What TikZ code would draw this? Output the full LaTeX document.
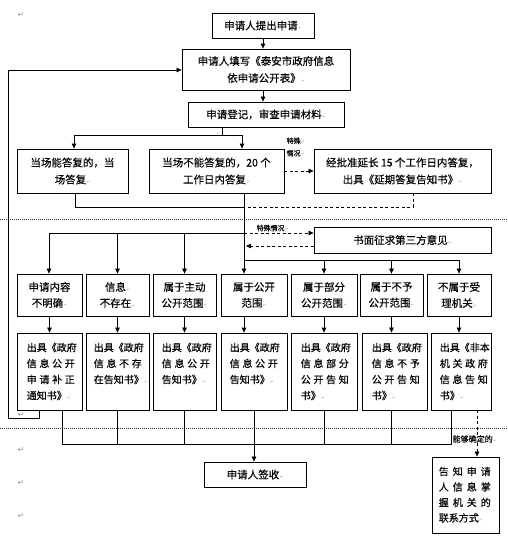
\documentclass[tikz,border=0pt]{standalone}
\usepackage{fontspec}
\setmainfont{Noto Sans CJK SC}[FakeBold=0.3]
\newfontfamily\dejavu{DejaVu Sans}
\usetikzlibrary{arrows.meta,calc}
\def\distloop#1#2{#1\ifx#2\relax\else\hfill\expandafter\distloop\expandafter#2\fi}
\newcommand\dist[2][48pt]{\makebox[#1][s]{\distloop#2\relax}}
\newcommand\pmk{{\color{black!40}\fontsize{4}{4}\selectfont\dejavu\,↵}}
\tikzset{
  box/.style={draw, line width=0.8pt, inner sep=0pt, align=center},
  conn/.style={line width=0.7pt},
  arr/.style={conn, -{Triangle[length=5pt,width=4.5pt]}},
  dsh/.style={dash pattern=on 3pt off 2.5pt},
  rthree/.style={box, minimum height=42, font=\fontsize{10.5}{16}\selectfont},
  rfour/.style={box, minimum height=77},
  tfour/.style={inner sep=0pt, anchor=north west, align=left, font=\fontsize{10}{16}\selectfont},
  sep/.style={line width=0.8pt, dash pattern=on 1pt off 1pt, black!80},
  lbl/.style={inner sep=0.5pt, font=\fontsize{7}{12.5}\selectfont, align=left},
  ret/.style={text=black!40, font=\dejavu\fontsize{8}{8}\selectfont, inner sep=0pt}
}
\begin{document}
\begin{tikzpicture}[x=1pt,y=-1pt,font=\fontsize{10.5}{17}\selectfont]
\fill[white] (0,0) rectangle (508,541);
\useasboundingbox (0,0) rectangle (508,541);

% separators
\draw[sep] (0,219) -- (508,219);
\draw[sep] (0,428) -- (508,428);

% paragraph marks
\node[ret] (m0) at (21,15) {↵};
\node[ret] (m1) at (21,415) {↵};
\node[ret] (m2) at (21,450) {↵};
\node[ret] (m3) at (21,483) {↵};
\node[ret] (m4) at (21,516) {↵};

% top boxes
\node[box,minimum width=102,minimum height=25] (b1) at (263,25.5) {申请人提出申请\pmk};
\node[box,minimum width=168,minimum height=41] (b2) at (266,69.5) {申请人填写《泰安市政府信息\\依申请公开表》\pmk};
\node[box,minimum width=156,minimum height=25] (b3) at (266,114.5) {申请登记，审查申请材料\pmk};

% row 2
\node[box,minimum width=111,minimum height=44] (r2a) at (72.5,171) {当场能答复的，当\\场答复\pmk};
\node[box,minimum width=135,minimum height=44] (r2b) at (216.5,171) {当场不能答复的，20 个\\工作日内答复\pmk};
\node[box,minimum width=177,minimum height=44] (r2c) at (402.5,171) {经批准延长 15 个工作日内答复，\\出具《延期答复告知书》\pmk};
\node[box,minimum width=177,minimum height=26] (third) at (402.5,240) {书面征求第三方意见\pmk};

% row 3
\node[rthree,minimum width=65] (A) at (49.5,295) {申请内容\\不明确\pmk};
\node[rthree,minimum width=63] (B) at (117.5,295) {信息\pmk\\不存在\pmk};
\node[rthree,minimum width=63] (C) at (184.5,295) {属于主动\\公开范围\pmk};
\node[rthree,minimum width=66] (D) at (254,295) {属于公开\\范围\pmk};
\node[rthree,minimum width=66] (E) at (324,295) {属于部分\\公开范围\pmk};
\node[rthree,minimum width=63] (F) at (391.5,295) {属于不予\\公开范围\pmk};
\node[rthree,minimum width=64] (G) at (459,295) {不属于受\\理机关\pmk};

% row 4
\node[rfour,minimum width=65] (A4) at (49.5,371.5) {};
\node[rfour,minimum width=63] (B4) at (117.5,371.5) {};
\node[rfour,minimum width=63] (C4) at (184.5,371.5) {};
\node[rfour,minimum width=66] (D4) at (254,371.5) {};
\node[rfour,minimum width=66] (E4) at (324,371.5) {};
\node[rfour,minimum width=65] (F4) at (394.5,371.5) {};
\node[rfour,minimum width=60] (G4) at (461,371.5) {};
\node[tfour] (A4t) at ([xshift=10pt,yshift=-10pt]A4.north west) {\dist{出具《政府}\\\dist{信息公开}\\\dist{申请补正}\\通知书》\pmk};
\node[tfour] (B4t) at ([xshift=8pt,yshift=-10pt]B4.north west) {\dist{出具《政府}\\\dist{信息不存}\\在告知书》\pmk};
\node[tfour] (C4t) at ([xshift=9pt,yshift=-10pt]C4.north west) {\dist{出具《政府}\\\dist{信息公开}\\告知书》\pmk};
\node[tfour] (D4t) at ([xshift=9pt,yshift=-10pt]D4.north west) {\dist{出具《政府}\\\dist{信息公开}\\告知书》\pmk};
\node[tfour] (E4t) at ([xshift=10pt,yshift=-10pt]E4.north west) {\dist{出具《政府}\\\dist{信息部分}\\\dist{公开告知}\\书》\pmk};
\node[tfour] (F4t) at ([xshift=10pt,yshift=-10pt]F4.north west) {\dist{出具《政府}\\\dist{信息不予}\\\dist{公开告知}\\书》\pmk};
\node[tfour] (G4t) at ([xshift=9pt,yshift=-10pt]G4.north west) {\dist{出具《非本}\\\dist{机关政府}\\\dist{信息告知}\\书》\pmk};

% bottom boxes
\node[box,minimum width=102,minimum height=25] (sign) at (255,474.5) {申请人签收\pmk};
\node[box,minimum width=67,minimum height=76] (tell) at (465.5,495) {};
\node[tfour,font=\fontsize{10}{15.5}\selectfont] (tellt) at ([xshift=7pt,yshift=-10pt]tell.north west) {\dist[52pt]{告知申请}\\\dist[52pt]{人信息掌}\\\dist[52pt]{握机关的}\\联系方式\pmk};

% connectors top
\draw[arr] (b1.south) -- (b1.south |- b2.north);
\draw[arr] (b2.south -| b1.south) -- (b3.north -| b1.south);
\coordinate (j1L) at (74,135);
\coordinate (j1) at (222,135);
\coordinate (j1R) at (242,135);
\draw[conn] (b3.south -| j1) -- (j1);
\draw[conn] (j1L) -- (j1R);
\draw[arr] (j1L) -- (j1L |- r2a.north);
\draw[arr] (j1R) -- (j1R |- r2b.north);

% special case 1
\draw[arr,dsh] (r2b.east) -- (r2c.west);
\node[lbl,anchor=west] (sp1) at (286,147) {特殊\pmk\\情况\pmk};

% trunk
\coordinate (t1) at (244,207);
\coordinate (t2) at (244,233);
\coordinate (t3) at (244,260);
\coordinate (k1) at (75,207);
\coordinate (k2) at (413,207);
\draw[conn] (r2a.south -| k1) -- (k1) -- (t1);
\draw[conn,dsh] (r2c.south -| k2) -- (k2) -- (t1);
\draw[conn] (r2b.south -| t1) -- (t3);

% left bus
\coordinate (lb) at (49,233);
\draw[conn] (lb) -- (t2);
\draw[arr] (lb) -- (lb |- A.north);
\draw[arr] (B.north |- t2) -- (B.north);
\draw[arr] (C.north |- t2) -- (C.north);

% special case 2
\draw[arr,dsh] (t2) -- (t2 -| third.west);
\node[lbl,anchor=south west] (sp2) at (256,232) {特殊情况\pmk};
\coordinate (t25) at (246,246);
\draw[arr,dsh] (t25 -| third.west) -- (t25);

% right bus
\coordinate (rb) at (459,260);
\draw[conn] (t3) -- (rb);
\draw[arr] (t3) -- (t3 |- D.north);
\draw[arr] (E.north |- t3) -- (E.north);
\draw[arr] (F.north |- t3) -- (F.north);
\draw[arr] (rb) -- (rb |- G.north);

% row 3 to row 4
\draw[arr] (A.south) -- (A.south |- A4.north);
\draw[arr] (B.south) -- (B.south |- B4.north);
\draw[arr] (C.south) -- (C.south |- C4.north);
\draw[arr] (D.south -| t1) -- (t1 |- D4.north);
\draw[arr] (E.south) -- (E.south |- E4.north);
\draw[arr] (F.south) -- (F.south |- F4.north);
\draw[arr] (G.south) -- (G.south |- G4.north);

% bottom bus
\coordinate (bL) at (62,444);
\coordinate (bR) at (451,444);
\draw[conn] (A4.south -| bL) -- (bL) -- (bR) -- (bR |- G4.south);
\draw[conn] (B4.south) -- (B4.south |- bL);
\draw[conn] (C4.south) -- (C4.south |- bL);
\draw[conn] (E4.south) -- (E4.south |- bL);
\draw[conn] (F4.south -| F.south) -- (F.south |- bL);
\draw[arr] (D4.south) -- (D4.south |- sign.north);

% determinable
\coordinate (gd) at (477,444);
\draw[arr,dsh] (G4.south -| gd) -- (gd |- tell.north);
\node[lbl,fill=white,anchor=west,font=\fontsize{8}{9}\selectfont] (lab3) at (452,439) {能够确定的\pmk};

% feedback loop
\coordinate (f1) at (39,418);
\coordinate (f2) at (8,418);
\coordinate (f3) at (8,70);
\draw[arr] (A4.south -| f1) -- (f1) -- (f2) -- (f3) -- (f3 -| b2.west);
\end{tikzpicture}
\end{document}
